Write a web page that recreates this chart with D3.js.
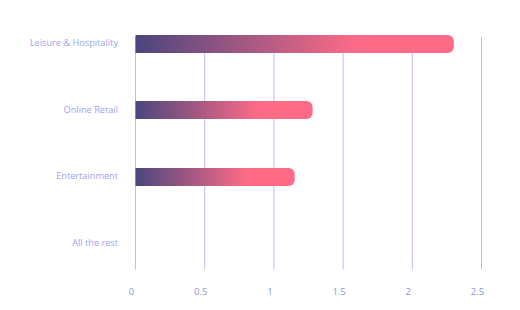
<!DOCTYPE html>
<html><head><meta charset="utf-8">
<script src="https://cdn.jsdelivr.net/npm/d3@7"></script>
<style>
html,body{margin:0;padding:0;background:#fff;}
svg{display:block;font-family:"Open Sans",sans-serif;}
</style></head>
<body>
<svg id="c" width="520" height="310"></svg>
<script>
const categories = ["Leisure & Hospitality","Online Retail","Entertainment","All the rest"];
const values = [2.30, 1.28, 1.15, 0];
const tickValues = [0, 0.5, 1, 1.5, 2, 2.5];
const tickLabels = ["0","0.5","1","1.5","2","2.5"];

const svg = d3.select("#c");
const x = d3.scaleLinear().domain([0, 2.5]).range([135.5, 481.5]);
const y = d3.scalePoint().domain(categories).range([43.5, 243.5]);
const barH = 18, r = 6;

const defs = svg.append("defs");
values.forEach((v,i)=>{
  const g = defs.append("linearGradient").attr("id","g"+i)
    .attr("gradientUnits","userSpaceOnUse")
    .attr("x1", x(0)).attr("x2", x(v)).attr("y1",0).attr("y2",0);
  g.append("stop").attr("offset","0").attr("stop-color","#4a467d");
  g.append("stop").attr("offset","0.7").attr("stop-color","#ff6b87");
  g.append("stop").attr("offset","1").attr("stop-color","#ff6b87");
});

// gridlines
svg.append("g").selectAll("line").data(tickValues).join("line")
  .attr("x1", d=>x(d)).attr("x2", d=>x(d))
  .attr("y1", 37).attr("y2", 269.5)
  .attr("stroke", "#b9bdfd").attr("stroke-width", 1);

// bars
svg.append("g").selectAll("path").data(values).join("path")
  .filter(d=>d>0)
  .attr("fill", (d,i)=>"url(#g"+i+")")
  .attr("d", (d,i)=>{
    const x0 = x(0), x1 = x(d), yt = Math.round(y(categories[i]) - barH/2), yb = yt + barH;
    return `M${x0},${yt}H${x1-r}A${r},${r} 0 0 1 ${x1},${yt+r}V${yb-r}A${r},${r} 0 0 1 ${x1-r},${yb}H${x0}Z`;
  });

// category labels
svg.append("g").selectAll("text").data(categories).join("text")
  .attr("x", 118).attr("y", (d,i)=>y(d) - 1)
  .attr("text-anchor","end").attr("dominant-baseline","central")
  .attr("font-size", 9.2).attr("fill", "#9ea3f0")
  .text(d=>d);

// x tick labels
svg.append("g").selectAll("text").data(tickValues).join("text")
  .attr("x", d=>x(d) - 4).attr("y", 291)
  .attr("text-anchor","middle").attr("dominant-baseline","central")
  .attr("font-size", 9.5).attr("fill", "#8f95dc")
  .text((d,i)=>tickLabels[i]);
</script>
</body></html>
